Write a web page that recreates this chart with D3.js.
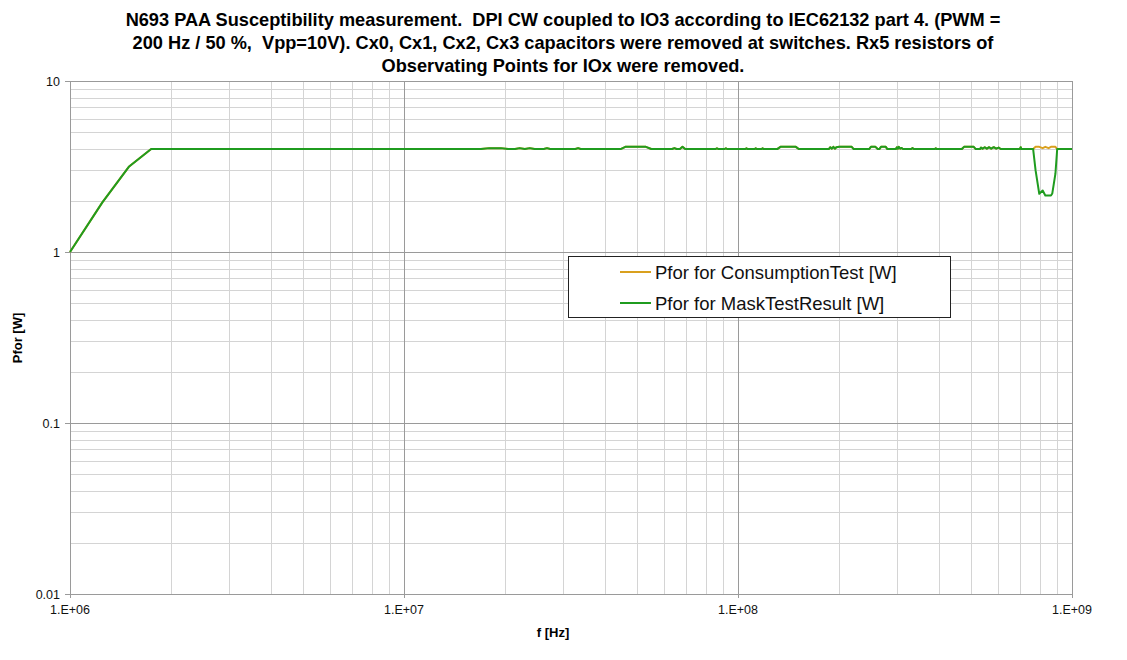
<!DOCTYPE html>
<html lang="en">
<head>
<meta charset="UTF-8">
<title>N693 PAA Susceptibility measurement</title>
<script src="https://cdn.jsdelivr.net/npm/d3@7"></script>
<style>
  body { margin: 0; background: #fff; }
  text { font-family: "Liberation Sans", Arial, sans-serif; white-space: pre; }
</style>
</head>
<body>
<svg width="1127" height="660"></svg>
<script>
// frequency points of the sweep, in MHz
var freqMHz = [
  1, 1.25, 1.5, 1.75, 2, 5, 10,
  17, 18, 19.5, 20.5, 21.5, 22.2, 23, 23.8, 24.6, 26.2, 26.8, 27.4,
  32.6, 33.2, 33.8, 44.5, 46, 53, 55, 63.5, 64.5, 65.5, 67, 68.2, 69.5,
  85.5, 86.5, 87.5, 91, 92, 93, 105, 106, 107, 112, 113, 114, 117.5, 118.5, 119.5,
  131, 134, 149, 152, 187, 189, 191, 193, 195, 197, 201, 219, 222,
  247, 250, 258, 262, 265, 268, 277, 280, 297, 299, 301, 303, 306, 309, 312,
  330, 333, 336, 388, 391, 394, 468, 475, 508, 515,
  530, 534, 540, 548, 556, 565, 573, 583, 593, 603, 612, 698, 702, 706,
  760, 765, 778, 798, 817, 832, 851, 865, 873, 892, 903, 920, 1000
];
// Pfor for MaskTestResult [W]
var pforMask = [
  1.0, 1.95, 3.15, 4.0, 4.0, 4.0, 4.0,
  4.0, 4.05, 4.05, 4.0, 4.0, 4.05, 4.0, 4.05, 4.0, 4.0, 4.05, 4.0,
  4.0, 4.05, 4.0, 4.0, 4.12, 4.12, 4.0, 4.0, 4.05, 4.0, 4.0, 4.12, 4.0,
  4.0, 4.04, 4.0, 4.0, 4.04, 4.0, 4.0, 4.04, 4.0, 4.0, 4.04, 4.0, 4.0, 4.04, 4.0,
  4.0, 4.12, 4.12, 4.0, 4.0, 4.1, 4.02, 4.12, 4.02, 4.1, 4.12, 4.12, 4.0,
  4.0, 4.12, 4.12, 4.0, 4.0, 4.12, 4.12, 4.0, 4.0, 4.1, 4.02, 4.12, 4.02, 4.06, 4.0,
  4.0, 4.05, 4.0, 4.0, 4.04, 4.0, 4.0, 4.12, 4.12, 4.0,
  4.0, 4.08, 4.02, 4.1, 4.02, 4.1, 4.02, 4.1, 4.02, 4.08, 4.0, 4.0, 4.1, 4.0,
  4.0, 4.0, 3.0, 2.19, 2.29, 2.14, 2.14, 2.14, 2.2, 2.87, 4.0, 4.0, 4.0
];
// Pfor for ConsumptionTest [W]
var pforConsumption = [
  1.0, 1.95, 3.15, 4.0, 4.0, 4.0, 4.0,
  4.0, 4.05, 4.05, 4.0, 4.0, 4.05, 4.0, 4.05, 4.0, 4.0, 4.05, 4.0,
  4.0, 4.05, 4.0, 4.0, 4.12, 4.12, 4.0, 4.0, 4.05, 4.0, 4.0, 4.12, 4.0,
  4.0, 4.04, 4.0, 4.0, 4.04, 4.0, 4.0, 4.04, 4.0, 4.0, 4.04, 4.0, 4.0, 4.04, 4.0,
  4.0, 4.12, 4.12, 4.0, 4.0, 4.1, 4.02, 4.12, 4.02, 4.1, 4.12, 4.12, 4.0,
  4.0, 4.12, 4.12, 4.0, 4.0, 4.12, 4.12, 4.0, 4.0, 4.1, 4.02, 4.12, 4.02, 4.06, 4.0,
  4.0, 4.05, 4.0, 4.0, 4.04, 4.0, 4.0, 4.12, 4.12, 4.0,
  4.0, 4.08, 4.02, 4.1, 4.02, 4.1, 4.02, 4.1, 4.02, 4.08, 4.0, 4.0, 4.1, 4.0,
  4.0, 4.0, 4.12, 4.12, 4.05, 4.12, 4.05, 4.12, 4.12, 4.12, 4.0, 4.0, 4.0
];
var xTickLabels = ["1.E+06", "1.E+07", "1.E+08", "1.E+09"];
var yTickLabels = ["0.01", "0.1", "1", "10"];
var titleLines = [
  "N693 PAA Susceptibility measurement.  DPI CW coupled to IO3 according to IEC62132 part 4. (PWM =",
  "200 Hz / 50 %,  Vpp=10V). Cx0, Cx1, Cx2, Cx3 capacitors were removed at switches. Rx5 resistors of",
  "Observating Points for IOx were removed."
];
var seriesNames = ["Pfor for ConsumptionTest [W]", "Pfor for MaskTestResult [W]"];

var svg = d3.select("svg");
var plot = {left: 70, right: 1072, top: 81, bottom: 594};

var x = d3.scaleLog().domain([1e6, 1e9]).range([plot.left, plot.right]);
var y = d3.scaleLog().domain([0.01, 10]).range([plot.bottom, plot.top]);

// grid: minor first, then decades
var g = svg.append("g");
var xMinor = x.ticks(), yMinor = y.ticks();
var isDecade = function(v) { return Math.abs(Math.log10(v) - Math.round(Math.log10(v))) < 1e-9; };

g.selectAll(".xm").data(xMinor.filter(function(d){ return !isDecade(d); }))
  .enter().append("line")
  .attr("x1", function(d){ return Math.round(x(d)) + 0.5; })
  .attr("x2", function(d){ return Math.round(x(d)) + 0.5; })
  .attr("y1", plot.top).attr("y2", plot.bottom)
  .attr("stroke", "#d4d4d4").attr("stroke-width", 1);
g.selectAll(".ym").data(yMinor.filter(function(d){ return !isDecade(d); }))
  .enter().append("line")
  .attr("y1", function(d){ return Math.round(y(d)) + 0.5; })
  .attr("y2", function(d){ return Math.round(y(d)) + 0.5; })
  .attr("x1", plot.left).attr("x2", plot.right)
  .attr("stroke", "#d4d4d4").attr("stroke-width", 1);
g.selectAll(".xM").data(xMinor.filter(isDecade))
  .enter().append("line")
  .attr("x1", function(d){ return Math.round(x(d)) + 0.5; })
  .attr("x2", function(d){ return Math.round(x(d)) + 0.5; })
  .attr("y1", plot.top).attr("y2", plot.bottom + 4)
  .attr("stroke", "#9a9a9a").attr("stroke-width", 1);
g.selectAll(".yM").data(yMinor.filter(isDecade))
  .enter().append("line")
  .attr("y1", function(d){ return Math.round(y(d)) + 0.5; })
  .attr("y2", function(d){ return Math.round(y(d)) + 0.5; })
  .attr("x1", plot.left - 5).attr("x2", plot.right)
  .attr("stroke", "#9a9a9a").attr("stroke-width", 1);

// tick labels
svg.selectAll(".xl").data(xTickLabels).enter().append("text")
  .attr("x", function(d, i){ return x(Math.pow(10, 6 + i)); })
  .attr("y", 614)
  .attr("text-anchor", "middle")
  .attr("font-size", "12.5px")
  .attr("fill", "#111")
  .text(function(d){ return d; });
svg.selectAll(".yl").data(yTickLabels).enter().append("text")
  .attr("x", 60)
  .attr("y", function(d){ return y(+d) + 4.5; })
  .attr("text-anchor", "end")
  .attr("font-size", "12.5px")
  .attr("fill", "#111")
  .text(function(d){ return d; });

// axis titles
svg.append("text")
  .attr("x", 553).attr("y", 637)
  .attr("text-anchor", "middle")
  .attr("font-size", "13px").attr("font-weight", "bold")
  .text("f [Hz]");
svg.append("text")
  .attr("transform", "translate(22,338) rotate(-90)")
  .attr("text-anchor", "middle")
  .attr("font-size", "13px").attr("font-weight", "bold")
  .text("Pfor [W]");

// title
svg.selectAll(".title").data(titleLines).enter().append("text")
  .attr("x", 563)
  .attr("y", function(d, i){ return 26 + i * 23; })
  .attr("text-anchor", "middle")
  .attr("font-size", "18.2px").attr("font-weight", "bold")
  .text(function(d){ return d; });

// series
var line = d3.line()
  .x(function(d){ return x(d[0] * 1e6); })
  .y(function(d){ return y(d[1]); });
var colors = ["#d9a01e", "#1f9c1f"];
var series = [pforConsumption, pforMask];

series.forEach(function(vals, k){
  svg.append("path")
    .datum(freqMHz.map(function(f, i){ return [f, vals[i]]; }))
    .attr("d", line)
    .attr("fill", "none")
    .attr("stroke", colors[k])
    .attr("stroke-width", 2)
    .attr("stroke-linejoin", "round");
});

// legend
var lg = svg.append("g");
lg.append("rect")
  .attr("x", 568.5).attr("y", 256.5)
  .attr("width", 382).attr("height", 61)
  .attr("fill", "#fff").attr("stroke", "#222").attr("stroke-width", 1);
seriesNames.forEach(function(name, k){
  var yy = 272 + k * 31;
  lg.append("line")
    .attr("x1", 620).attr("x2", 651)
    .attr("y1", yy).attr("y2", yy)
    .attr("stroke", colors[k]).attr("stroke-width", 2);
  lg.append("text")
    .attr("x", 655).attr("y", yy + 6.5)
    .attr("font-size", "18.5px")
    .attr("fill", "#111")
    .text(name);
});
</script>
</body>
</html>
